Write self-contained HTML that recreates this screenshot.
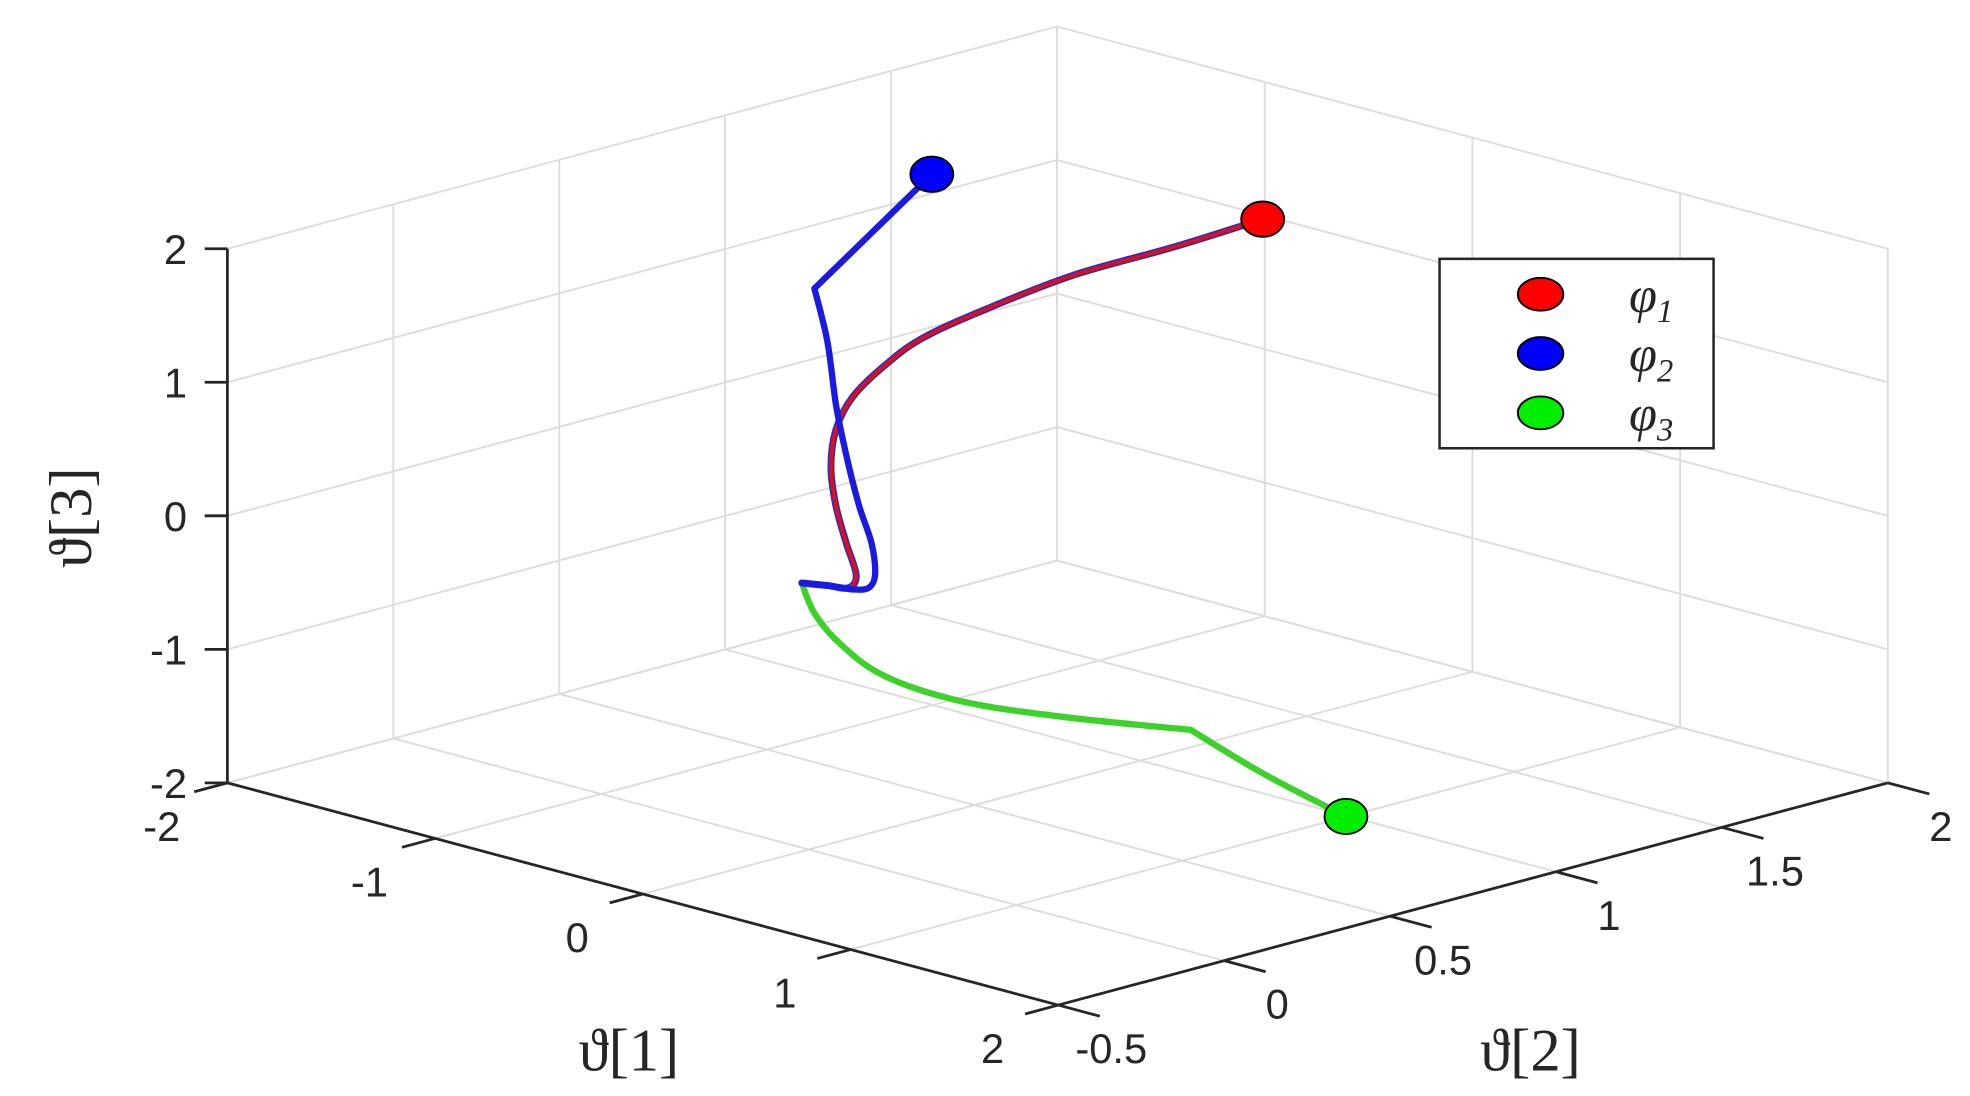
<!DOCTYPE html>
<html><head><meta charset="utf-8"><style>
html,body{margin:0;padding:0;background:#fff;}
svg{display:block;}
text{font-family:"Liberation Sans",sans-serif;fill:#262626;}
.ttl{font-family:"Liberation Serif",serif;font-style:italic;}
</style></head><body>
<svg id="chart" width="1970" height="1096" viewBox="0 0 1560 868" xmlns="http://www.w3.org/2000/svg">
<g id="grid"></g>
<g id="axes"></g>
<g id="series"></g>
<g id="legend">
  <rect x="1140" y="205" width="217" height="150" fill="#fff" stroke="#262626" stroke-width="2"/>
  <g>
    <ellipse cx="1220" cy="233" rx="18" ry="13" fill="#ff0000" stroke="#000" stroke-width="1.5"/>
    <text class="ttl" x="1290" y="247" font-size="40">φ<tspan font-size="26" dy="8">1</tspan></text>
  </g>
  <g>
    <ellipse cx="1220" cy="280" rx="18" ry="13" fill="#0000ff" stroke="#000" stroke-width="1.5"/>
    <text class="ttl" x="1290" y="294" font-size="40">φ<tspan font-size="26" dy="8">2</tspan></text>
  </g>
  <g>
    <ellipse cx="1220" cy="327" rx="18" ry="13" fill="#00ee00" stroke="#000" stroke-width="1.5"/>
    <text class="ttl" x="1290" y="341" font-size="40">φ<tspan font-size="26" dy="8">3</tspan></text>
  </g>
</g>
<text class="ttl" x="498" y="848" font-size="48" text-anchor="middle" style="font-style:normal">ϑ[1]</text>
<text class="ttl" x="1212" y="848" font-size="48" text-anchor="middle" style="font-style:normal">ϑ[2]</text>
<text class="ttl" transform="translate(72,410) rotate(-90)" font-size="48" text-anchor="middle" style="font-style:normal">ϑ[3]</text>
</svg>
<script>
const xTicks=[-2,-1,0,1,2];
const yTicks=[-0.5,0,0.5,1,1.5,2];
const zTicks=[-2,-1,0,1,2];
const xTickLabels=["-2","-1","0","1","2"];
const yTickLabels=["-0.5","0","0.5","1","1.5","2"];
const zTickLabels=["-2","-1","0","1","2"];
const phi1X=[0,0,0,0,0,0,0,0,0,0,0,0,0,0,0];
const phi1Y=[1.368,1.102,0.797,0.531,0.341,0.227,0.132,0.082,0.067,0.082,0.113,0.143,0.120,0.056,-0.021];
const phi1Z=[1.81,1.78,1.77,1.69,1.60,1.47,1.30,1.09,0.82,0.52,0.22,-0.04,-0.12,-0.06,0.01];
const phi2X=[0,0,0,0,0,0,0,0,0,0,0,0];
const phi2Y=[0.371,0.017,0.056,0.082,0.113,0.151,0.189,0.200,0.181,0.132,0.056,-0.021];
const phi2Z=[2.81,2.19,1.77,1.28,0.88,0.48,0.17,-0.07,-0.16,-0.14,-0.06,0.01];
const phi3X=[0,0,0,0,0,0,0,0,0];
const phi3Y=[-0.021,0.017,0.094,0.227,0.455,0.759,1.151,1.368,1.619];
const phi3Z=[0.01,-0.24,-0.52,-0.85,-1.19,-1.51,-1.87,-2.34,-2.83];
const phi1Corners=[];
const phi2Corners=[1];
const phi3Corners=[6];

const NS="http://www.w3.org/2000/svg";
function P(x,y,z){
  const u=(x+2)/4, v=(y+0.5)/2.5, w=(z+2)/4;
  return [180+658*u+657*v, 620+176*u-176*v-423*w];
}
function mk(tag,attrs,parent){const e=document.createElementNS(NS,tag);for(const k in attrs)e.setAttribute(k,attrs[k]);parent.appendChild(e);return e;}
const grid=document.getElementById('grid'),axes=document.getElementById('axes'),series=document.getElementById('series');
function gl(a,b){const l=mk('line',{x1:a[0],y1:a[1],x2:b[0],y2:b[1],stroke:'#dcdcdc','stroke-width':1.5},grid);

}
yTicks.forEach(y=>gl(P(-2,y,-2),P(-2,y,2)));
zTicks.forEach(z=>gl(P(-2,-0.5,z),P(-2,2,z)));
xTicks.forEach(x=>gl(P(x,2,-2),P(x,2,2)));
zTicks.forEach(z=>gl(P(-2,2,z),P(2,2,z)));
xTicks.forEach(x=>gl(P(x,-0.5,-2),P(x,2,-2)));
yTicks.forEach(y=>gl(P(-2,y,-2),P(2,y,-2)));
function al(a,b,name){const l=mk('line',{x1:a[0],y1:a[1],x2:b[0],y2:b[1],stroke:'#262626','stroke-width':2.2},axes);

}
al(P(-2,-0.5,-2),P(-2,-0.5,2),'z-axis-line');
al(P(-2,-0.5,-2),P(2,-0.5,-2),'x-axis-line');
al(P(2,-0.5,-2),P(2,2,-2),'y-axis-line');
function tx(s,x,y,anchor,name){const t=mk('text',{x:x,y:y,'font-size':33,'text-anchor':anchor},axes);t.textContent=s;

}
zTicks.forEach((z,i)=>{const p=P(-2,-0.5,z);al([p[0]-18,p[1]+0],p,'z-tick');tx(zTickLabels[i],p[0]-32,p[1]+12,'end','z-tick-label');});
xTicks.forEach((x,i)=>{const p=P(x,-0.5,-2);const q=P(x,-0.5+0.1,-2);al(p,[p[0]-(q[0]-p[0]),p[1]-(q[1]-p[1])],'x-tick');tx(xTickLabels[i],p[0]-52,p[1]+46,'middle','x-tick-label');});
yTicks.forEach((y,i)=>{const p=P(2,y,-2);const q=P(1.8,y,-2);al(p,[p[0]-(q[0]-p[0]),p[1]-(q[1]-p[1])],'y-tick');tx(yTickLabels[i],p[0]+42,p[1]+46,'middle','y-tick-label');});
function path(X,Y,Z,corners){
  const pts=X.map((x,i)=>P(x,Y[i],Z[i]));
  let d='M'+pts[0][0].toFixed(1)+','+pts[0][1].toFixed(1);
  for(let i=0;i<pts.length-1;i++){
    const p1=pts[i],p2=pts[i+1];
    const p0=(i===0||corners.includes(i))?p1:pts[i-1];
    const p3=(i+2>pts.length-1||corners.includes(i+1))?p2:pts[i+2];
    const c1=[p1[0]+(p2[0]-p0[0])/6,p1[1]+(p2[1]-p0[1])/6];
    const c2=[p2[0]-(p3[0]-p1[0])/6,p2[1]-(p3[1]-p1[1])/6];
    d+=' C'+c1[0].toFixed(1)+','+c1[1].toFixed(1)+' '+c2[0].toFixed(1)+','+c2[1].toFixed(1)+' '+p2[0].toFixed(1)+','+p2[1].toFixed(1);
  }
  return d;
}
function line(X,Y,Z,corners,color,w,name){const e=mk('path',{d:path(X,Y,Z,corners),fill:'none',stroke:color,'stroke-width':w,'stroke-linejoin':'round','stroke-linecap':'round'},series);

}
line(phi3X,phi3Y,phi3Z,phi3Corners,'#3cd22a',5,'phi3-line');
line(phi1X,phi1Y,phi1Z,phi1Corners,'#2a2ad0',5.5,'phi1-line-edge');
line(phi1X,phi1Y,phi1Z,phi1Corners,'#e01010',3,'phi1-line');
line(phi2X,phi2Y,phi2Z,phi2Corners,'#1a1ae0',5,'phi2-line');
function marker(x,y,z,color,name){const p=P(x,y,z);const c=mk('ellipse',{cx:p[0],cy:p[1],rx:17,ry:14,fill:color,stroke:'#000','stroke-width':1.5},series);

}
marker(phi1X[0],phi1Y[0],phi1Z[0],'#ff0000','phi1-marker');
marker(phi2X[0],phi2Y[0],phi2Z[0],'#0000ff','phi2-marker');
const n3=phi3X.length-1;
marker(phi3X[n3],phi3Y[n3],phi3Z[n3],'#00ee00','phi3-marker');
</script>
</body></html>
